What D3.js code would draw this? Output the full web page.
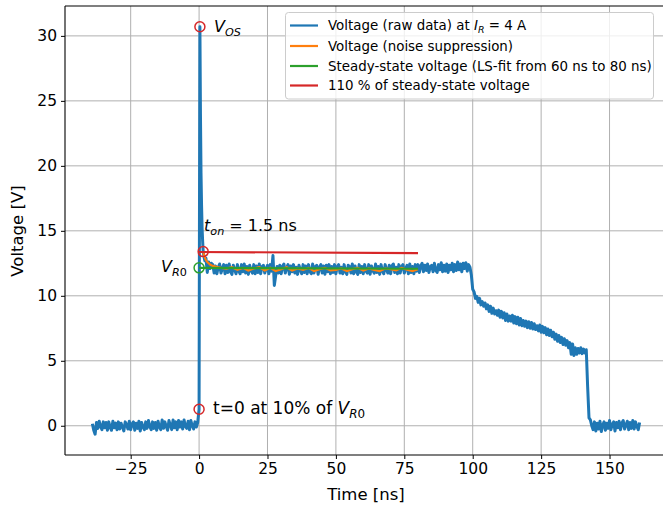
<!DOCTYPE html>
<html><head><meta charset="utf-8">
<script src="https://cdn.jsdelivr.net/npm/d3@7"></script>
<style>
body{margin:0;background:#fff;}
svg{display:block;font-family:"DejaVu Sans",sans-serif;}
</style></head>
<body>
<svg id="chart" width="663" height="505"></svg>
<script>
// ---- data ----
const xTicks = [-25, 0, 25, 50, 75, 100, 125, 150];
const yTicks = [0, 5, 10, 15, 20, 25, 30];
const sampleStep = 0.5; // ns between raw samples

const baselineStart = -39;
const baselineValues = [
 0.15,-0.35,-0.65,0.25,-0.2,0.35,-0.05,-0.3,0.3,-0.15,
 0.25,-0.35,0.3,-0.1,-0.35,0.35,-0.15,0.2,-0.3,0.3,
 -0.25,0.2,-0.1,-0.4,0.3,0.1,-0.25,0.35,-0.3,0.15,
 0.3,-0.35,0.2,-0.2,0.35,-0.4,0.25,-0.1,-0.3,0.3,
 -0.2,0.4,-0.05,-0.3,0.3,-0.2,0.25,-0.35,0.35,-0.1,
 -0.3,0.45,-0.2,0.3,-0.05,-0.35,0.4,0.05,-0.3,0.45,
 -0.15,0.3,-0.3,0.4,-0.1,0.3,-0.25,0.45,-0.05,-0.2,
 0.35,-0.3,0.4,0.0,-0.25,0.3,-0.1,0.25];

const spikeTimes  = [0, 0.1, 0.3, 0.5, 0.7, 0.9, 1.1, 1.3, 1.5, 1.8, 2.1, 2.5, 3.0, 3.5, 4.0, 4.5];
const spikeValues = [1.27, 12, 30.7, 24, 19.5, 17, 15.2, 14.2, 13.4, 13.0, 12.7, 12.9, 11.8, 12.6, 12.1, 12.5];

const plateauStart = 5;
const plateauValues = [
 12.4,11.75,12.3,11.7,12.2,12.45,11.75,12.1,12.4,11.7,
 12.35,11.8,12.45,11.85,11.65,12.35,12.0,11.7,12.4,11.9,
 11.7,12.4,11.85,12.45,11.75,12.25,11.65,12.35,11.95,11.75,
 12.4,11.7,12.3,11.8,12.45,11.7,12.25,12.35,11.75,12.1,
 12.35,11.7,12.4,11.9,13.1,10.8,11.55,12.25,11.75,12.35,
 11.7,12.25,12.45,11.75,12.15,12.4,11.65,12.3,11.85,12.4,
 11.75,12.2,11.65,12.35,12.0,11.7,12.4,11.8,12.3,11.7,
 12.4,11.85,11.7,12.45,11.75,12.25,12.35,11.65,12.2,12.4,
 11.75,12.3,11.65,12.35,11.85,12.4,11.7,12.25,11.8,12.4,
 11.7,12.25,12.4,11.75,12.2,11.7,12.4,11.85,11.65,12.35,
 12.25,11.75,12.45,11.7,12.3,11.85,11.65,12.4,11.8,12.25,
 11.7,12.4,11.9,11.75,12.4,11.65,12.3,11.95,11.75,12.45,
 11.8,12.25,11.65,12.4,11.9,11.7,12.4,12.0,11.75,12.35,
 11.7,12.3,12.45,11.8,12.2,11.7,12.4,11.75,12.25,12.4,
 11.75,12.1,12.35,11.7,12.45,11.8,12.25,11.7,12.4,11.9,
 12.4,11.8,12.3,12.5,11.85,12.35,11.95,12.45,11.8,12.25,
 12.35,11.85,12.5,11.95,11.8,12.4,12.0,12.55,11.85,12.35,
 11.9,12.45,11.8,12.35,12.0,12.5,11.85,12.4,11.95,12.6,
 12.0,12.45,11.85,12.5,12.1,12.55,11.9,12.4];

const declineStart = 99;
const declineValues = [
 12.2,11.6,10.5,10.3,9.8,9.95,9.5,9.8,9.3,9.55,
 9.2,9.45,9.0,9.3,8.8,9.2,8.65,9.05,8.6,8.85,
 8.5,8.9,8.35,8.8,8.3,8.7,8.1,8.6,8.05,8.45,
 8.05,8.5,7.9,8.4,7.85,8.35,7.75,8.25,7.7,8.1,
 7.65,8.05,7.55,8.0,7.5,7.95,7.45,7.85,7.4,7.7,
 7.3,7.75,7.2,7.65,7.15,7.55,7.0,7.45,6.95,7.35,
 6.85,7.2,6.65,7.05,6.5,6.95,6.4,6.8,6.25,6.7,
 6.2,6.55,6.0,6.4,5.5,6.3,5.4,6.0,5.5,5.95,
 5.6,6.0,5.55,5.9,5.6,5.85,3.0,0.6];

const tailStart = 143;
const tailValues = [
 0.45,0.0,-0.3,0.3,-0.4,0.2,-0.25,0.35,-0.45,0.05,
 0.3,-0.35,0.2,-0.2,0.4,-0.3,0.1,0.3,-0.4,0.25,
 -0.15,0.35,-0.3,0.2,0.4,-0.25,0.05,0.35,-0.3,0.25,
 -0.2,0.4,-0.25,0.3,-0.05,-0.3,0.25];

const smoothTimes  = [1.5,2,2.5,3,3.5,4,5,6,7,8,10,12,14,16,18,20,22,24,26,28,30,32,34,36,38,40,42,44,46,48,50,52,54,56,58,60,62,64,66,68,70,72,74,76,78,80];
const smoothValues = [13.35,13.0,12.75,12.6,12.5,12.4,12.3,12.25,12.2,12.15,
 12.1,12.2,12.0,12.15,11.95,12.1,12.2,11.95,12.15,11.9,
 12.05,12.2,11.95,12.1,12.0,12.15,11.9,12.05,12.15,11.95,
 12.0,12.1,11.9,12.05,12.15,11.95,12.1,12.0,11.9,12.1,
 12.05,11.95,12.15,12.0,11.9,12.05];

const steadyTimes  = [0, 80];
const steadyValues = [12.15, 12.08];
const limitTimes   = [0, 80];
const limitValues  = [13.37, 13.29];

const markerTimes  = [0.3, 1.5, 0, 0];
const markerValues = [30.7, 13.4, 1.27, 12.15];
const markerColors = ["#d62728", "#d62728", "#d62728", "#2ca02c"];

const legendLabels = ["raw", "smooth", "steady", "limit"];

// ---- build series ----
function seg(start, vals){ return vals.map((v,i)=>[start + i*sampleStep, v]); }
const raw = [].concat(
  seg(baselineStart, baselineValues),
  spikeTimes.map((t,i)=>[t, spikeValues[i]]),
  seg(plateauStart, plateauValues),
  seg(declineStart, declineValues),
  seg(tailStart, tailValues));
const smooth = smoothTimes.map((t,i)=>[t, smoothValues[i]]);
const steady = steadyTimes.map((t,i)=>[t, steadyValues[i]]);
const limit  = limitTimes.map((t,i)=>[t, limitValues[i]]);

const C = {blue:"#1f77b4", orange:"#ff7f0e", green:"#2ca02c", red:"#d62728"};

const svg = d3.select("#chart");
const L = 65, R = 667, T = 6, B = 455;
const x = d3.scaleLinear().domain([-49, 171]).range([L, R]);
const y = d3.scaleLinear().domain([-2.25, 32.3]).range([B, T]);

// grid
const g = svg.append("g");
g.selectAll(".gx").data(xTicks).join("line")
  .attr("x1", d=>x(d)).attr("x2", d=>x(d)).attr("y1", T).attr("y2", B)
  .attr("stroke", "#b0b0b0").attr("stroke-width", 1);
g.selectAll(".gy").data(yTicks).join("line")
  .attr("x1", L).attr("x2", R).attr("y1", d=>y(d)).attr("y2", d=>y(d))
  .attr("stroke", "#b0b0b0").attr("stroke-width", 1);

// axes
const fmt = d => d < 0 ? "\u2212" + Math.abs(d) : String(d);
const xa = svg.append("g").attr("transform", `translate(0,${B})`)
  .call(d3.axisBottom(x).tickValues(xTicks).tickSize(4).tickPadding(4).tickFormat(fmt));
const ya = svg.append("g").attr("transform", `translate(${L},0)`)
  .call(d3.axisLeft(y).tickValues(yTicks).tickSize(4).tickPadding(4).tickFormat(fmt));
[xa, ya].forEach(a=>{
  a.select(".domain").remove();
  a.selectAll("text").attr("font-size", 15.5).attr("fill", "#000").attr("font-family", "DejaVu Sans");
  a.selectAll("line").attr("stroke", "#000").attr("stroke-width", 1);
});
// spines
svg.append("line").attr("x1", L).attr("x2", L).attr("y1", T).attr("y2", B).attr("stroke","#000").attr("stroke-width",1.1);
svg.append("line").attr("x1", L).attr("x2", R).attr("y1", B).attr("y2", B).attr("stroke","#000").attr("stroke-width",1.1);
svg.append("line").attr("x1", L).attr("x2", R).attr("y1", T).attr("y2", T).attr("stroke","#000").attr("stroke-width",1.1);

svg.append("text").attr("x", (L+R)/2).attr("y", 500).attr("text-anchor","middle")
  .attr("font-size", 16.5).text("Time [ns]");
svg.append("text").attr("transform", "translate(23,231) rotate(-90)").attr("text-anchor","middle")
  .attr("font-size", 16.5).text("Voltage [V]");

// lines
const line = d3.line().x(d=>x(d[0])).y(d=>y(d[1]));
const plot = svg.append("g");
plot.append("path").datum(raw).attr("d", line).attr("fill","none").attr("stroke", C.blue).attr("stroke-width", 3).attr("stroke-linejoin","round");
plot.append("path").datum(smooth).attr("d", line).attr("fill","none").attr("stroke", C.orange).attr("stroke-width", 2.2);
plot.append("path").datum(steady).attr("d", line).attr("fill","none").attr("stroke", C.green).attr("stroke-width", 2.2);
plot.append("path").datum(limit).attr("d", line).attr("fill","none").attr("stroke", C.red).attr("stroke-width", 2.2);

// markers
plot.selectAll(".mk").data(markerTimes).join("circle")
  .attr("cx", (d,i)=>x(d)).attr("cy", (d,i)=>y(markerValues[i])).attr("r", 5)
  .attr("fill","none").attr("stroke", (d,i)=>markerColors[i]).attr("stroke-width", 1.5);

// annotations
function mathText(px, py, parts, size){
  const t = svg.append("text").attr("x", px).attr("y", py).attr("font-size", size);
  parts.forEach(p=>{
    const s = t.append("tspan").text(p.t);
    if (p.it) s.attr("font-style","italic");
    if (p.sub) s.attr("font-size", size*0.7).attr("dy", size*0.22);
    if (p.subc) s.attr("font-size", size*0.7);
    if (p.up) s.attr("dy", -size*0.22);
  });
  return t;
}
mathText(214, 32, [{t:"V",it:1},{t:"OS",it:1,sub:1}], 16);
mathText(204, 231, [{t:"t",it:1},{t:"on",it:1,sub:1},{t:" = 1.5 ns",up:1}], 16);
mathText(161, 272, [{t:"V",it:1},{t:"R",it:1,sub:1},{t:"0",subc:1}], 16);
mathText(213, 414, [{t:"t=0 at 10% of "},{t:"V",it:1},{t:"R",it:1,sub:1},{t:"0",subc:1}], 17);

// legend
const lg = svg.append("g");
lg.append("rect").attr("x", 285.5).attr("y", 12.5).attr("width", 368).attr("height", 86.5)
  .attr("rx", 3).attr("fill", "#fff").attr("fill-opacity", 0.8).attr("stroke", "#cccccc").attr("stroke-width", 1);
const lgColors = [C.blue, C.orange, C.green, C.red];
const rowY = [25.5, 46, 66, 85.5];
legendLabels.forEach((k,i)=>{
  lg.append("line").attr("x1", 290).attr("x2", 318).attr("y1", rowY[i]).attr("y2", rowY[i])
    .attr("stroke", lgColors[i]).attr("stroke-width", 2.2);
});
const lsz = 13.4;
mathText(328, rowY[0]+4.5, [{t:"Voltage (raw data) at "},{t:"I",it:1},{t:"R",it:1,sub:1},{t:" = 4 A",up:1}], lsz);
mathText(328, rowY[1]+4.5, [{t:"Voltage (noise suppression)"}], lsz);
mathText(328, rowY[2]+4.5, [{t:"Steady-state voltage (LS-fit from 60 ns to 80 ns)"}], lsz);
mathText(328, rowY[3]+4.5, [{t:"110 % of steady-state voltage"}], lsz);
</script>
</body></html>
